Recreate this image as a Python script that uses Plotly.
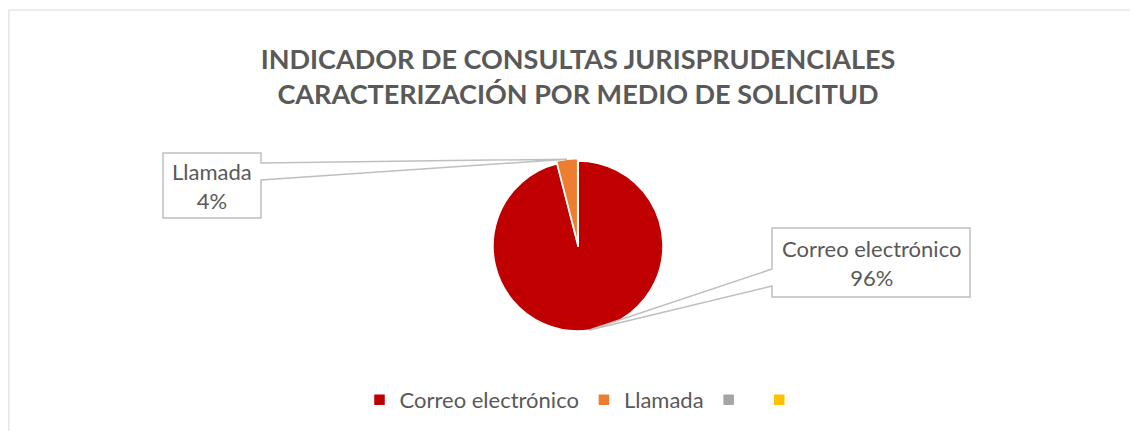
import math
import plotly.graph_objects as go

# ---- data ----
categories = ["Correo electrónico", "Llamada", "\u00a0", "\u00a0\u00a0"]
values = [96, 4, 0, 0]
colors = ["#C00000", "#ED7D31", "#A5A5A5", "#FFC000"]
title_lines = ["INDICADOR DE CONSULTAS JURISPRUDENCIALES",
               "CARACTERIZACIÓN POR MEDIO DE SOLICITUD"]

OFF = 8                 # page body margin
W, H = 1130, 423        # figure size
CX, CY, R = 578, 246, 85       # pie centre / radius in page px
PULL = 0.03


def px(x):
    return (x - OFF) / W


def py(y):
    return 1 - (y - OFF) / H


fig = go.Figure()
half = R * (1 + PULL)
fig.add_trace(go.Pie(
    labels=categories, values=values, sort=False, direction="clockwise",
    rotation=0, marker=dict(colors=colors, line=dict(color="white", width=1.5)),
    pull=[0, PULL, 0, 0], textinfo="none", hoverinfo="label+percent",
    domain=dict(x=[px(CX - half), px(CX + half)], y=[py(CY + half), py(CY - half)]),
    showlegend=True,
))

total = sum(values)
shapes = []
annotations = []

# chart border
shapes.append(dict(type="rect", xref="paper", yref="paper",
                   x0=0.0008, x1=px(W + 20), y0=py(H + 20), y1=py(10),
                   line=dict(color="#D9D9D9", width=1), fillcolor="rgba(0,0,0,0)",
                   layer="below"))

# callout boxes (x0, y0, x1, y1) and wedge attach points
callouts = {
    "Llamada": dict(box=(163, 153, 261, 218), side="right", a=(163, 180)),
    "Correo electrónico": dict(box=(772, 228, 970, 297), side="left", a=(269, 286)),
}

cum = 0
for lab, v in zip(categories, values):
    if v <= 0:
        continue
    frac = v / total
    mid = (cum + frac / 2) * 2 * math.pi
    cum += frac
    if lab not in callouts:
        continue
    c = callouts[lab]
    pull = PULL if lab == "Llamada" else 0
    tx = CX + R * (1 + pull) * math.sin(mid)
    ty = CY - R * (1 + pull) * math.cos(mid)
    x0, y0, x1, y1 = c["box"]
    ya, yb = c["a"]
    if c["side"] == "right":
        path = (f"M{px(x0)},{py(y0)} L{px(x1)},{py(y0)} L{px(x1)},{py(ya)} "
                f"L{px(tx)},{py(ty)} L{px(x1)},{py(yb)} L{px(x1)},{py(y1)} "
                f"L{px(x0)},{py(y1)} Z")
    else:
        path = (f"M{px(x0)},{py(y0)} L{px(x1)},{py(y0)} L{px(x1)},{py(y1)} "
                f"L{px(x0)},{py(y1)} L{px(x0)},{py(yb)} L{px(tx)},{py(ty)} "
                f"L{px(x0)},{py(ya)} Z")
    shapes.append(dict(type="path", xref="paper", yref="paper", path=path,
                       fillcolor="white", line=dict(color="#BFBFBF", width=1.5),
                       layer="above"))
    annotations.append(dict(
        xref="paper", yref="paper", x=px((x0 + x1) / 2), y=py((y0 + y1) / 2),
        xanchor="center", yanchor="middle", showarrow=False,
        text=f"{lab}<br>{round(frac * 100)}%",
        font=dict(family="Lato", size=22, color="#595959"),
    ))

fig.update_layout(
    width=W, height=H,
    margin=dict(l=0, r=0, t=0, b=0),
    paper_bgcolor="white", plot_bgcolor="white",
    title=dict(text="<br>".join(title_lines), x=px(578), xanchor="center",
               y=py(69), yanchor="middle",
               font=dict(family="Lato", size=27, color="#595959", weight="bold")),
    legend=dict(orientation="h", x=px(588), xanchor="center", y=py(400),
                yanchor="middle", font=dict(family="Lato", size=22, color="#595959"),
                itemwidth=30, traceorder="normal"),
    shapes=shapes, annotations=annotations,
)

fig.write_html("out.html")
